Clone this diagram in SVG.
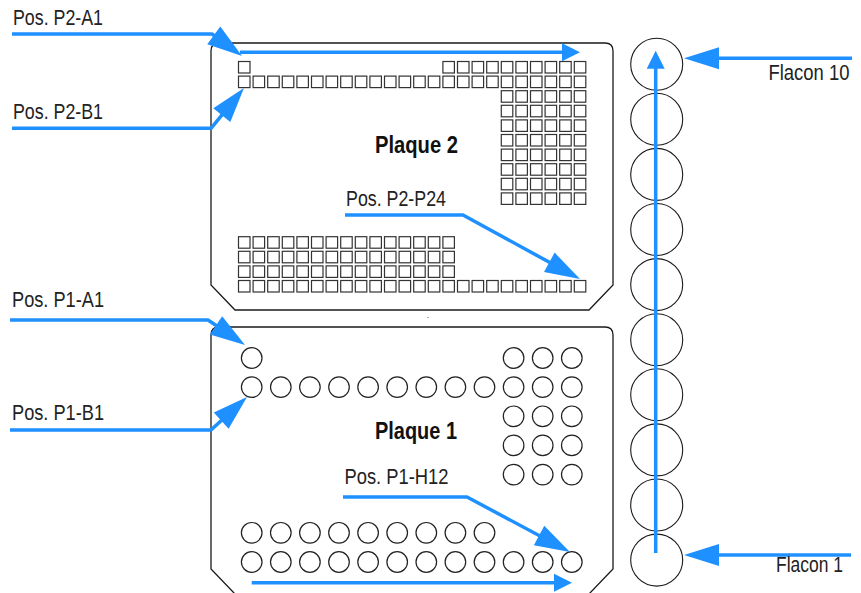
<svg xmlns="http://www.w3.org/2000/svg" xmlns:xlink="http://www.w3.org/1999/xlink" width="861" height="593" viewBox="0 0 861 593">
<style>
.plate{fill:none;stroke:#1a1a1a;stroke-width:1.3}
.sq rect{fill:none;stroke:#333;stroke-width:1.2}
.wl circle{fill:none;stroke:#222;stroke-width:1.2}
.vial{fill:none;stroke:#1a1a1a;stroke-width:1.1}
.lbl{font-family:"Liberation Sans Narrow","Liberation Sans",Arial,sans-serif;font-size:22.5px;fill:#222}
.title{font-family:"Liberation Sans Narrow","Liberation Sans",Arial,sans-serif;font-size:23px;font-weight:bold;fill:#111}
.conn{fill:none;stroke:#1E90FF;stroke-width:3.5;stroke-linejoin:round}
</style>
<defs>
<marker id="big" markerUnits="userSpaceOnUse" markerWidth="36" markerHeight="24" viewBox="0 0 36 24" refX="27" refY="11" orient="auto" overflow="visible"><path d="M0,0 L35,11 L0,22 Z" fill="#1E90FF"/></marker>
<marker id="small" markerUnits="userSpaceOnUse" markerWidth="19" markerHeight="19" viewBox="0 0 19 19" refX="12" refY="9" orient="auto" overflow="visible"><path d="M0,0 L18,9 L0,18 Z" fill="#1E90FF"/></marker>
<g id="sqL15" class="sq">
<rect x="238.5" y="0" width="11.5" height="11.5"/><rect x="253.1" y="0" width="11.5" height="11.5"/><rect x="267.7" y="0" width="11.5" height="11.5"/><rect x="282.3" y="0" width="11.5" height="11.5"/><rect x="296.9" y="0" width="11.5" height="11.5"/><rect x="311.5" y="0" width="11.5" height="11.5"/><rect x="326.1" y="0" width="11.5" height="11.5"/><rect x="340.7" y="0" width="11.5" height="11.5"/><rect x="355.3" y="0" width="11.5" height="11.5"/><rect x="369.9" y="0" width="11.5" height="11.5"/><rect x="384.5" y="0" width="11.5" height="11.5"/><rect x="399.1" y="0" width="11.5" height="11.5"/><rect x="413.7" y="0" width="11.5" height="11.5"/><rect x="428.3" y="0" width="11.5" height="11.5"/><rect x="442.9" y="0" width="11.5" height="11.5"/>
</g>
<g id="sqR9" class="sq">
<rect x="457.5" y="0" width="11.5" height="11.5"/><rect x="472.1" y="0" width="11.5" height="11.5"/><rect x="486.7" y="0" width="11.5" height="11.5"/><rect x="501.3" y="0" width="11.5" height="11.5"/><rect x="515.9" y="0" width="11.5" height="11.5"/><rect x="530.5" y="0" width="11.5" height="11.5"/><rect x="545.1" y="0" width="11.5" height="11.5"/><rect x="559.7" y="0" width="11.5" height="11.5"/><rect x="574.3" y="0" width="11.5" height="11.5"/>
</g>
<g id="sqR6" class="sq">
<rect x="501.3" y="0" width="11.5" height="11.5"/><rect x="515.9" y="0" width="11.5" height="11.5"/><rect x="530.5" y="0" width="11.5" height="11.5"/><rect x="545.1" y="0" width="11.5" height="11.5"/><rect x="559.7" y="0" width="11.5" height="11.5"/><rect x="574.3" y="0" width="11.5" height="11.5"/>
</g>
<g id="cL9" class="wl">
<circle cx="251.7" cy="0" r="10.3"/><circle cx="280.8" cy="0" r="10.3"/><circle cx="309.9" cy="0" r="10.3"/><circle cx="339" cy="0" r="10.3"/><circle cx="368.1" cy="0" r="10.3"/><circle cx="397.2" cy="0" r="10.3"/><circle cx="426.3" cy="0" r="10.3"/><circle cx="455.4" cy="0" r="10.3"/><circle cx="484.5" cy="0" r="10.3"/>
</g>
<g id="cR3" class="wl">
<circle cx="513.6" cy="0" r="10.3"/><circle cx="542.7" cy="0" r="10.3"/><circle cx="571.8" cy="0" r="10.3"/>
</g>
</defs>
<rect width="861" height="593" fill="#fff"/>

<g id="plate2">
<path class="plate" d="M219,43 H605 Q613,43 613,51 V285 L589,310 H235 L211,285 V51 Q211,43 219,43 Z"/>
<g class="sq"><rect x="238.5" y="61.5" width="11.5" height="11.5"/><rect x="442.9" y="61.5" width="11.5" height="11.5"/></g>
<use xlink:href="#sqR9" y="61.5"/>
<use xlink:href="#sqL15" y="76.1"/><use xlink:href="#sqR9" y="76.1"/>
<use xlink:href="#sqR6" y="90.7"/><use xlink:href="#sqR6" y="105.3"/><use xlink:href="#sqR6" y="119.9"/><use xlink:href="#sqR6" y="134.5"/><use xlink:href="#sqR6" y="149.1"/><use xlink:href="#sqR6" y="163.7"/><use xlink:href="#sqR6" y="178.3"/><use xlink:href="#sqR6" y="192.9"/>
<use xlink:href="#sqL15" y="236.7"/><use xlink:href="#sqL15" y="251.3"/><use xlink:href="#sqL15" y="265.9"/>
<use xlink:href="#sqL15" y="280.5"/><use xlink:href="#sqR9" y="280.5"/>
<text class="title" x="375" y="153" textLength="83" lengthAdjust="spacingAndGlyphs">Plaque 2</text>
</g>

<circle cx="428" cy="317.5" r="0.6" fill="#444"/>

<g id="plate1">
<path class="plate" d="M219,327 H605 Q613,327 613,335 V569 L589,594 H235 L211,569 V335 Q211,327 219,327 Z"/>
<g class="wl"><circle cx="251.7" cy="358" r="10.3"/></g>
<use xlink:href="#cR3" y="358"/>
<use xlink:href="#cL9" y="387.1"/><use xlink:href="#cR3" y="387.1"/>
<use xlink:href="#cR3" y="416.3"/><use xlink:href="#cR3" y="445.4"/><use xlink:href="#cR3" y="474.6"/>
<use xlink:href="#cL9" y="532.8"/>
<use xlink:href="#cL9" y="562"/><use xlink:href="#cR3" y="562"/>
<text class="title" x="375" y="439" textLength="82" lengthAdjust="spacingAndGlyphs">Plaque 1</text>
</g>

<g id="vials">
<g id="vial10"><circle class="vial" cx="656.7" cy="64.2" r="26"/></g>
<g id="vial9"><circle class="vial" cx="656.7" cy="119.3" r="26"/></g>
<g id="vial8"><circle class="vial" cx="656.7" cy="174.4" r="26"/></g>
<g id="vial7"><circle class="vial" cx="656.7" cy="229.5" r="26"/></g>
<g id="vial6"><circle class="vial" cx="656.7" cy="284.6" r="26"/></g>
<g id="vial5"><circle class="vial" cx="656.7" cy="339.7" r="26"/></g>
<g id="vial4"><circle class="vial" cx="656.7" cy="394.8" r="26"/></g>
<g id="vial3"><circle class="vial" cx="656.7" cy="449.9" r="26"/></g>
<g id="vial2"><circle class="vial" cx="656.7" cy="505" r="26"/></g>
<g id="vial1"><circle class="vial" cx="656.7" cy="560.1" r="26"/></g>
</g>

<g id="connectors">
<path class="conn" marker-end="url(#big)" d="M12,34 H212 L235.55,51.27"/>
<path class="conn" marker-end="url(#big)" d="M12,128.3 H211 L238.9,94.2"/>
<path class="conn" marker-end="url(#big)" d="M10,320 H208 L238.4,340.5"/>
<path class="conn" marker-end="url(#big)" d="M10,430 H211 L241.1,402.4"/>
<path class="conn" marker-end="url(#big)" d="M345,215 H463 L573,275.2"/>
<path class="conn" marker-end="url(#big)" d="M343,497 H467 L562.9,548.2"/>
<path class="conn" marker-end="url(#big)" d="M852,58.3 H692"/>
<path class="conn" marker-end="url(#big)" d="M851,555 H692"/>
<path class="conn" marker-end="url(#small)" d="M240,52.3 H574"/>
<path class="conn" marker-end="url(#small)" d="M251.7,582.7 H566"/>
<path class="conn" marker-end="url(#small)" d="M655.7,553 V56.7"/>
</g>

<g id="labels">
<text class="lbl" x="13" y="24.5" textLength="90" lengthAdjust="spacingAndGlyphs">Pos. P2-A1</text>
<text class="lbl" x="13" y="118.5" textLength="90" lengthAdjust="spacingAndGlyphs">Pos. P2-B1</text>
<text class="lbl" x="12" y="307" textLength="92" lengthAdjust="spacingAndGlyphs">Pos. P1-A1</text>
<text class="lbl" x="12" y="420" textLength="92" lengthAdjust="spacingAndGlyphs">Pos. P1-B1</text>
<text class="lbl" x="346" y="206" textLength="100" lengthAdjust="spacingAndGlyphs">Pos. P2-P24</text>
<text class="lbl" x="344.5" y="483.5" textLength="104" lengthAdjust="spacingAndGlyphs">Pos. P1-H12</text>
<text class="lbl" x="768.5" y="80" textLength="81" lengthAdjust="spacingAndGlyphs">Flacon 10</text>
<text class="lbl" x="776" y="571.7" textLength="67" lengthAdjust="spacingAndGlyphs">Flacon 1</text>
</g>
</svg>
